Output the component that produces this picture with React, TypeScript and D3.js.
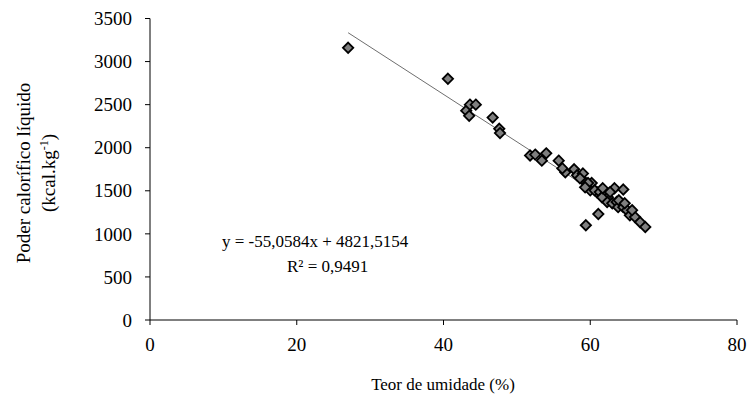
import React from "react";
import * as d3 from "d3";

const moisture: number[] = [
  27.0, 40.6, 43.1, 43.6, 44.4, 43.5, 46.7, 47.6, 47.7, 51.8, 52.5, 53.4, 54.0, 55.7,
  56.6, 57.8, 58.2, 58.9, 59.0, 59.6, 60.2, 60.0, 60.9, 58.6, 59.7, 60.6, 61.3, 62.0,
  62.4, 62.3, 63.0, 63.6, 63.8, 64.5, 65.0, 65.4, 66.1, 66.8, 67.5, 63.3, 64.5, 61.1,
  59.4, 56.2, 59.3, 61.6, 62.7, 63.9, 64.7, 65.7, 61.7,
];
const calorific: number[] = [
  3160, 2800, 2430, 2500, 2500, 2370, 2350, 2220, 2170, 1910, 1920, 1850, 1935, 1850,
  1715, 1750, 1680, 1635, 1700, 1565, 1590, 1505, 1485, 1645, 1590, 1505, 1485, 1460,
  1425, 1370, 1355, 1370, 1310, 1310, 1275, 1215, 1195, 1135, 1080, 1530, 1515, 1230,
  1100, 1760, 1540, 1425, 1485, 1390, 1355, 1275, 1530,
];
const xTicks: number[] = [0, 20, 40, 60, 80];
const yTicks: number[] = [0, 500, 1000, 1500, 2000, 2500, 3000, 3500];
const slope = -55.0584;
const intercept = 4821.5154;
const equationText = "y = -55,0584x + 4821,5154";
const r2Text = "R² = 0,9491";
const xTitle = "Teor de umidade (%)";
const yTitle1 = "Poder calorífico líquido";

export default function App() {
  const x = d3.scaleLinear().domain([0, 80]).range([150, 737]);
  const y = d3.scaleLinear().domain([0, 3500]).range([320, 18.5]);
  const font = "'Liberation Serif', 'Times New Roman', serif";
  const xmin = d3.min(moisture)!;
  const xmax = d3.max(moisture)!;
  const diamond = d3.symbol().type(d3.symbolDiamond2).size(68)()!;
  return (
    <svg
      width={748}
      height={410}
      style={{ position: "absolute", left: 0, top: 0, background: "#fff" }}
      fontFamily={font}
    >
      <rect width={748} height={410} fill="#fff" />
      {/* axes */}
      <line x1={x(0)} x2={x(0)} y1={y(3500)} y2={y(0)} stroke="#000" strokeWidth={1} />
      <line x1={x(0)} x2={x(80)} y1={y(0)} y2={y(0)} stroke="#000" strokeWidth={1} />
      {yTicks.map((t) => (
        <g key={"y" + t}>
          <line x1={x(0) - 5} x2={x(0)} y1={y(t)} y2={y(t)} stroke="#000" />
          <text x={x(0) - 18} y={y(t)} dy="0.35em" textAnchor="end" fontSize={19} fill="#000">
            {t}
          </text>
        </g>
      ))}
      {xTicks.map((t) => (
        <g key={"x" + t}>
          <line x1={x(t)} x2={x(t)} y1={y(0)} y2={y(0) + 5} stroke="#000" />
          <text x={x(t)} y={y(0) + 31} textAnchor="middle" fontSize={19} fill="#000">
            {t}
          </text>
        </g>
      ))}
      {/* trend line */}
      <line
        x1={x(xmin)}
        y1={y(intercept + slope * xmin)}
        x2={x(xmax)}
        y2={y(intercept + slope * xmax)}
        stroke="#6e6e6e"
        strokeWidth={1}
      />
      {/* points */}
      {moisture.map((m, i) => (
        <path
          key={i}
          d={diamond}
          transform={`translate(${x(m)},${y(calorific[i])})`}
          fill="#7f7f7f"
          stroke="#000"
          strokeWidth={1.8}
        />
      ))}
      {/* equation */}
      <text x={222} y={247} fontSize={17} fill="#000">{equationText}</text>
      <text x={287} y={272} fontSize={17} fill="#000">{r2Text}</text>
      {/* titles */}
      <text x={443} y={390} textAnchor="middle" fontSize={17} fill="#000">{xTitle}</text>
      <text transform="translate(30,173) rotate(-90)" textAnchor="middle" fontSize={19} fill="#000">
        {yTitle1}
      </text>
      <text transform="translate(55,173) rotate(-90)" textAnchor="middle" fontSize={19} fill="#000">
        (kcal.kg<tspan dy={-7} fontSize={12}>-1</tspan><tspan dy={7}>)</tspan>
      </text>
    </svg>
  );
}
